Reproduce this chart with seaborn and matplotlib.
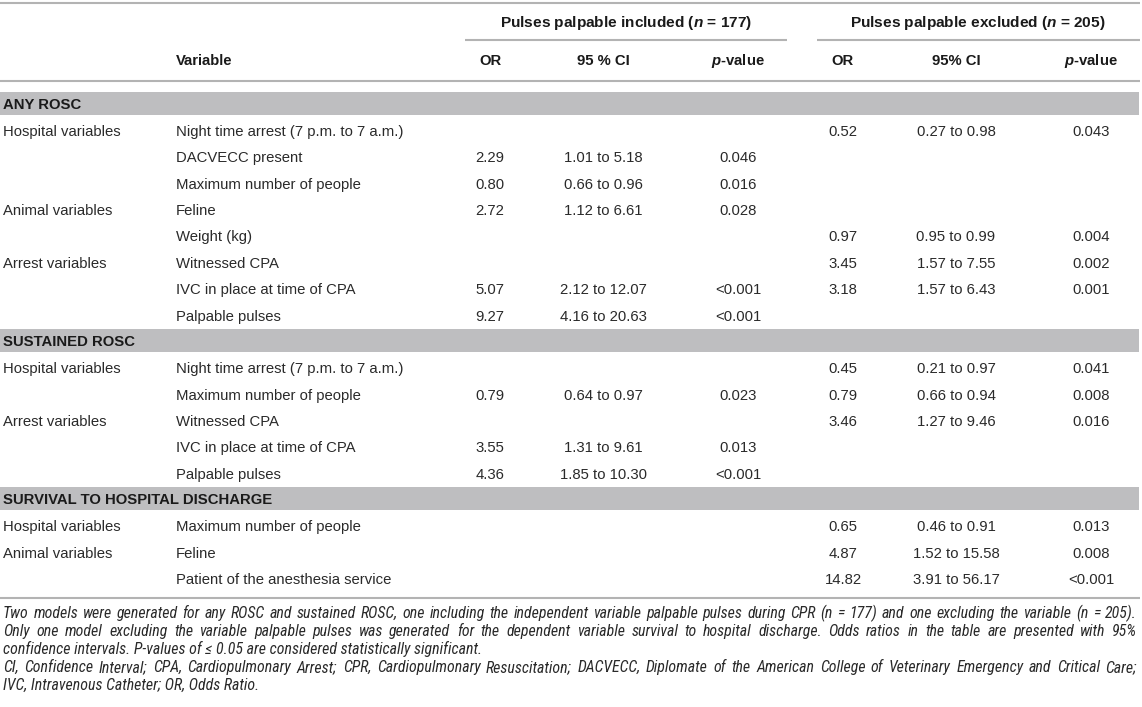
import matplotlib
matplotlib.use("Agg")
import matplotlib.pyplot as plt
import seaborn as sns
from matplotlib import font_manager
from matplotlib.patches import Rectangle

# table contents
sections = ["ANY ROSC", "SUSTAINED ROSC", "SURVIVAL TO HOSPITAL DISCHARGE"]
section_sizes = [8, 5, 3]

group_labels = ["Hospital variables", "", "", "Animal variables", "", "Arrest variables", "", "",
                "Hospital variables", "", "Arrest variables", "", "",
                "Hospital variables", "Animal variables", ""]
variables = ["Night time arrest (7 p.m. to 7 a.m.)", "DACVECC present", "Maximum number of people",
             "Feline", "Weight (kg)", "Witnessed CPA", "IVC in place at time of CPA", "Palpable pulses",
             "Night time arrest (7 p.m. to 7 a.m.)", "Maximum number of people", "Witnessed CPA",
             "IVC in place at time of CPA", "Palpable pulses",
             "Maximum number of people", "Feline", "Patient of the anesthesia service"]
or_included = ["", "2.29", "0.80", "2.72", "", "", "5.07", "9.27",
               "", "0.79", "", "3.55", "4.36",
               "", "", ""]
ci_included = ["", "1.01 to 5.18", "0.66 to 0.96", "1.12 to 6.61", "", "", "2.12 to 12.07", "4.16 to 20.63",
               "", "0.64 to 0.97", "", "1.31 to 9.61", "1.85 to 10.30",
               "", "", ""]
p_included = ["", "0.046", "0.016", "0.028", "", "", "<0.001", "<0.001",
              "", "0.023", "", "0.013", "<0.001",
              "", "", ""]
or_excluded = ["0.52", "", "", "", "0.97", "3.45", "3.18", "",
               "0.45", "0.79", "3.46", "", "",
               "0.65", "4.87", "14.82"]
ci_excluded = ["0.27 to 0.98", "", "", "", "0.95 to 0.99", "1.57 to 7.55", "1.57 to 6.43", "",
               "0.21 to 0.97", "0.66 to 0.94", "1.27 to 9.46", "", "",
               "0.46 to 0.91", "1.52 to 15.58", "3.91 to 56.17"]
p_excluded = ["0.043", "", "", "", "0.004", "0.002", "0.001", "",
              "0.041", "0.008", "0.016", "", "",
              "0.013", "0.008", "<0.001"]

group_headers = ["Pulses palpable included ($n$ = 177)", "Pulses palpable excluded ($n$ = 205)"]
col_headers = ["OR", "95 % CI", "$p$-value", "OR", "95% CI", "$p$-value"]

footnote = [
    ("Two models were generated for any ROSC and sustained ROSC, one including the independent variable "
     "palpable pulses during CPR (n = 177) and one excluding the variable (n = 205).", True),
    ("Only one model excluding the variable palpable pulses was generated for the dependent variable "
     "survival to hospital discharge. Odds ratios in the table are presented with 95%", True),
    ("confidence intervals. P-values of \u2264 0.05 are considered statistically significant.", False),
    ("CI, Confidence Interval; CPA, Cardiopulmonary Arrest; CPR, Cardiopulmonary Resuscitation; DACVECC, "
     "Diplomate of the American College of Veterinary Emergency and Critical Care;", True),
    ("IVC, Intravenous Catheter; OR, Odds Ratio.", False),
]

W, H = 1142, 707
LINE = "#b3b3b3"
BAND = "#bebec0"
TXT = "#2a2a2a"
HEAD = "#1a1a1a"
FS = 10.7

sns.set_theme(style="white")
plt.rcParams['font.family'] = ['Liberation Sans', 'DejaVu Sans']
plt.rcParams['mathtext.fontset'] = 'custom'
plt.rcParams['mathtext.it'] = 'Liberation Sans:italic:bold'
plt.rcParams['mathtext.rm'] = 'Liberation Sans:bold'
plt.rcParams['mathtext.bf'] = 'Liberation Sans:bold'


def condensed_italic():
    # look for an installed narrow / condensed italic face for the footnote
    prefs = ['Liberation Sans Narrow', 'Roboto Condensed', 'Open Sans Condensed', 'DejaVu Sans']
    cands = []
    for f in font_manager.fontManager.ttflist:
        narrow = (str(f.stretch) in ('condensed', 'semi-condensed', 'extra-condensed', '75', '87')
                  or 'Narrow' in f.name or 'Condensed' in f.name
                  or 'Narrow' in f.fname or 'Condensed' in f.fname)
        if narrow and f.style in ('italic', 'oblique') and f.weight in (300, 400, 'normal', 'regular', 'light'):
            rank = prefs.index(f.name) if f.name in prefs else len(prefs)
            w = 0 if f.weight in (400, 'normal', 'regular') else 1
            cands.append((rank, w, f.fname))
    if cands:
        cands.sort()
        return cands[0][2]
    return None


fig = plt.figure(figsize=(W / 100, H / 100), dpi=100)
ax = fig.add_axes([0, 0, 1, 1])
ax.set_xlim(0, W)
ax.set_ylim(H, 0)
ax.axis('off')
r = fig.canvas.get_renderer()

off = FS * 100 / 72 * 0.36  # baseline offset from glyph centre


def hline(y, x0, x1):
    ax.plot([x0, x1], [y, y], color=LINE, lw=1.5, solid_capstyle='butt')


def put(x, y, s, ha='left', bold=False, color=TXT, size=FS):
    ax.text(x, y + off, s, ha=ha, va='baseline', fontsize=size,
            fontweight='bold' if bold else 'normal', color=color)


# header
hline(3, 0, 1140)
hline(40, 465, 787)
hline(40, 817, 1140)
hline(81, 0, 1140)
for xc, s in zip([626, 978], group_headers):
    put(xc, 22, s, ha='center', bold=True, color=HEAD, size=FS + 0.4)
put(176, 60, "Variable", bold=True, color=HEAD)
col_x = [490, 603, 738, 843, 956, 1091]
for xc, s in zip(col_x, col_headers):
    put(xc, 60, s, ha='center', bold=True, color=HEAD)

# body
columns = [or_included, ci_included, p_included, or_excluded, ci_excluded, p_excluded]
y = 92
i = 0
for name, n in zip(sections, section_sizes):
    ax.add_patch(Rectangle((0, y), 1139, 23, color=BAND, lw=0))
    put(3, y + 11.5, name, bold=True, color=HEAD)
    ry = y + 23 + 15.5
    for k in range(n):
        put(3, ry, group_labels[i])
        put(176, ry, variables[i])
        for xc, col in zip(col_x, columns):
            if col[i]:
                put(xc, ry, col[i], ha='center')
        i += 1
        last = ry
        ry += 26.4
    y = last + 14
hline(598, 0, 1140)

# footnote
fpath = condensed_italic()
if fpath:
    fkw0 = dict(fontproperties=font_manager.FontProperties(fname=fpath))
else:
    fkw0 = dict(style='italic', family=['Liberation Sans', 'DejaVu Sans'])
probe = ax.text(0, 0, footnote[0][0], fontsize=10, **fkw0)
wid = probe.get_window_extent(r).width
probe.remove()
fs_foot = min(10 * 1133 / wid, 11.4)
if fpath:
    fp = font_manager.FontProperties(fname=fpath, size=fs_foot)
    fkw = dict(fontproperties=fp, color=TXT)
else:
    fkw = dict(fontsize=fs_foot, color=TXT, **fkw0)

fy = 614
for line, justify in footnote:
    if justify:
        words = line.split(' ')
        widths = []
        for w in words:
            t = ax.text(0, 0, w, **fkw)
            widths.append(t.get_window_extent(r).width)
            t.remove()
        gap = (1137 - 3 - sum(widths)) / (len(words) - 1)
        x = 3
        for w, wd in zip(words, widths):
            ax.text(x, fy + 4, w, ha='left', va='baseline', **fkw)
            x += wd + gap
    else:
        ax.text(3, fy + 4, line, ha='left', va='baseline', **fkw)
    fy += 18

fig.savefig("out.png", dpi=100)
